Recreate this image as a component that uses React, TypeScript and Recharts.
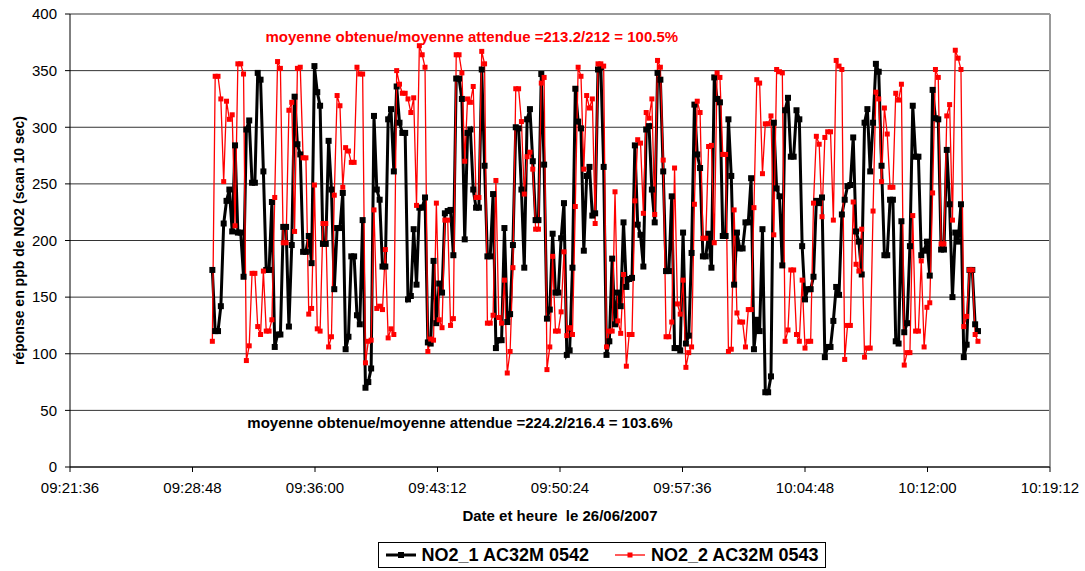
import React from "react"
import { LineChart, Line, XAxis, YAxis, CartesianGrid, ReferenceLine, ReferenceDot } from "recharts"

// NO2 readings, one every 10 s, starting 09:29:58
const startSec = 34198
const stepSec = 10

const no2_1 = [
  174, 120, 120, 142, 215, 235, 245, 208, 284, 207, 207, 168, 298, 306, 251, 251, 348, 342, 261, 174, 174, 234, 106, 117, 117, 212, 212,
  124, 196, 327, 285, 276, 190, 190, 204, 180, 354, 331, 319, 197, 197, 288, 245, 157, 211, 211, 242, 104, 115, 186, 186, 134, 126, 218, 70, 75, 87,
  310, 245, 236, 177, 177, 307, 316, 261, 336, 304, 295, 295, 148, 151, 210, 161, 229, 229, 238, 110, 109, 182, 127, 162, 154, 224, 226, 227, 187, 343, 343,
  325, 201, 295, 298, 245, 229, 229, 351, 266, 186, 186, 241, 105, 112, 112, 211, 128, 135, 196, 300, 299, 245, 176, 307, 316, 270, 218, 218, 347, 267,
  131, 139, 206, 154, 154, 202, 233, 99, 103, 176, 334, 305, 299, 191, 257, 265, 222, 224, 351, 353, 265, 99, 111, 184, 126, 154, 142, 216, 159, 166,
  167, 284, 214, 205, 177, 298, 301, 245, 216, 348, 342, 261, 173, 173, 239, 105, 105, 103, 207, 109, 116, 189, 320, 276, 264, 186, 186, 206, 176, 344,
  325, 322, 204, 204, 307, 257, 161, 207, 193, 193, 216, 216, 255, 104, 130, 120, 210, 66, 66, 80, 304, 246, 239, 178, 315, 326, 274, 274, 315, 307,
  195, 148, 157, 157, 168, 235, 233, 238, 97, 106, 106, 129, 159, 152, 223, 236, 248, 249, 291, 208, 199, 170, 304, 316, 261, 304, 356, 349, 266, 187,
  187, 236, 236, 111, 109, 217, 119, 127, 195, 319, 274, 274, 187, 191, 199, 169, 333, 308, 307, 192, 192, 280, 232, 150, 207, 199, 232, 97, 108, 174, 174, 126, 120,
]

const no2_2 = [
  111, 345, 345, 325, 252, 323, 307, 311, 213, 356, 356, 347, 94, 107, 171, 171, 124, 117, 173, 120, 120, 130, 238, 358, 352, 198, 198,
  315, 322, 208, 352, 353, 273, 273, 135, 140, 249, 122, 120, 215, 215, 106, 115, 240, 328, 319, 247, 282, 279, 269, 269, 353, 347, 347, 92, 111, 112,
  227, 140, 142, 139, 192, 114, 122, 117, 350, 338, 330, 330, 325, 313, 326, 231, 372, 364, 353, 102, 113, 112, 233, 130, 123, 218, 218, 125, 131, 364, 364,
  348, 270, 325, 322, 336, 238, 238, 367, 356, 127, 127, 134, 253, 132, 127, 165, 83, 102, 176, 334, 334, 305, 241, 274, 278, 263, 210, 210, 339, 344,
  86, 106, 186, 120, 120, 137, 190, 116, 123, 117, 230, 353, 345, 263, 328, 317, 325, 215, 356, 356, 354, 106, 120, 120, 243, 129, 118, 170, 89, 117,
  117, 235, 289, 286, 224, 313, 308, 325, 223, 359, 353, 271, 115, 115, 128, 264, 144, 135, 165, 88, 101, 106, 232, 323, 313, 202, 202, 283, 284, 198,
  348, 344, 276, 276, 102, 104, 227, 136, 128, 128, 106, 139, 139, 229, 342, 339, 259, 303, 303, 310, 205, 351, 349, 348, 111, 121, 174, 174, 117, 111,
  165, 105, 111, 111, 233, 292, 285, 221, 291, 296, 296, 218, 359, 354, 351, 95, 125, 125, 234, 179, 173, 210, 97, 105, 105, 226, 331, 325, 252, 317,
  294, 247, 247, 330, 324, 338, 90, 101, 101, 222, 120, 120, 182, 106, 141, 145, 242, 351, 344, 197, 197, 310, 320, 218, 368, 361, 351, 124, 133, 174, 174, 117, 111,
]

const xTicks = [33696, 34128, 34560, 34992, 35424, 35856, 36288, 36720, 37152]
const yTicks = [0, 50, 100, 150, 200, 250, 300, 350, 400]

const data = no2_1.map((v, i) => ({ t: startSec + i * stepSec, a: v, b: no2_2[i] }))

const pad = (n: number) => String(n).padStart(2, "0")
const fmtTime = (s: number) => `${pad(Math.floor(s / 3600))}:${pad(Math.floor((s % 3600) / 60))}:${pad(s % 60)}`

const font = '"Liberation Sans", Arial, sans-serif'

const square = (color: string, size: number) => (props: any) => {
  const { cx, cy, index } = props
  if (cx == null || cy == null) return <g key={index} />
  return <rect key={index} x={cx - size / 2} y={cy - size / 2} width={size} height={size} fill={color} />
}

const LegendIcon = ({ color, w, s }: { color: string; w: number; s: number }) => (
  <svg width={30} height={12} style={{ display: "block" }}>
    <line x1={0} y1={6} x2={30} y2={6} stroke={color} strokeWidth={w} />
    <rect x={15 - s / 2} y={6 - s / 2} width={s} height={s} fill={color} />
  </svg>
)

export default function App() {
  return (
    <div style={{ position: "absolute", left: 0, top: 0, width: 1085, height: 571, background: "#fff", fontFamily: font }}>
      <LineChart width={1085} height={571} data={data} margin={{ top: 14, right: 35, left: 0, bottom: 0 }}>
        <CartesianGrid horizontal vertical={false} stroke="#333" strokeOpacity={1} />
        <XAxis
          dataKey="t"
          type="number"
          domain={[33696, 37152]}
          ticks={xTicks}
          tickFormatter={fmtTime}
          height={104}
          stroke="#000"
          tickSize={5}
          tickMargin={10}
          tick={{ fill: "#000", fontSize: 15, fontFamily: font }}
          allowDataOverflow
          label={{
            value: "Date et heure\u00a0 le 26/06/2007",
            position: "insideTop",
            offset: 43,
            style: { fontWeight: "bold", fontSize: 15, fill: "#000", fontFamily: font },
          }}
        />
        <YAxis
          domain={[0, 400]}
          ticks={yTicks}
          width={70}
          stroke="#000"
          tickSize={5}
          tickMargin={8}
          tick={{ fill: "#000", fontSize: 15, fontFamily: font }}
          label={{
            value: "réponse en ppb de NO2 (scan 10 sec)",
            angle: -90,
            position: "insideLeft",
            offset: 19,
            textAnchor: "middle",
            style: { fontWeight: "bold", fontSize: 14, fill: "#000", fontFamily: font, textAnchor: "middle" },
          }}
        />
        <ReferenceLine y={400} stroke="#999" strokeWidth={2} />
        <ReferenceLine x={37152} stroke="#999" strokeWidth={2} />
        <Line
          dataKey="a"
          stroke="#000"
          strokeWidth={3}
          dot={square("#000", 6)}
          activeDot={false}
          isAnimationActive={false}
        />
        <Line
          dataKey="b"
          stroke="#ff0000"
          strokeWidth={1.3}
          dot={square("#ff0000", 5)}
          activeDot={false}
          isAnimationActive={false}
        />
        <ReferenceDot
          x={35113}
          y={380}
          r={0}
          ifOverflow="visible"
          label={{
            value: "moyenne obtenue/moyenne attendue =213.2/212 = 100.5%",
            position: "center",
            style: { fontWeight: "bold", fontSize: 15, fill: "#ff0000", fontFamily: font },
          }}
        />
        <ReferenceDot
          x={35071}
          y={39}
          r={0}
          ifOverflow="visible"
          label={{
            value: "moyenne obtenue/moyenne attendue =224.2/216.4 = 103.6%",
            position: "center",
            style: { fontWeight: "bold", fontSize: 15, fill: "#000", fontFamily: font },
          }}
        />
      </LineChart>
      <div
        style={{
          position: "absolute",
          left: 378,
          top: 542,
          width: 448,
          height: 26,
          border: "1px solid #000",
          boxSizing: "border-box",
          display: "flex",
          alignItems: "center",
          justifyContent: "center",
          gap: 6,
          fontWeight: "bold",
          fontSize: 18,
          color: "#000",
        }}
      >
        <LegendIcon color="#000" w={3} s={6} />
        <span>NO2_1 AC32M 0542</span>
        <span style={{ width: 14 }} />
        <LegendIcon color="#ff0000" w={1.3} s={5} />
        <span>NO2_2 AC32M 0543</span>
      </div>
    </div>
  )
}
